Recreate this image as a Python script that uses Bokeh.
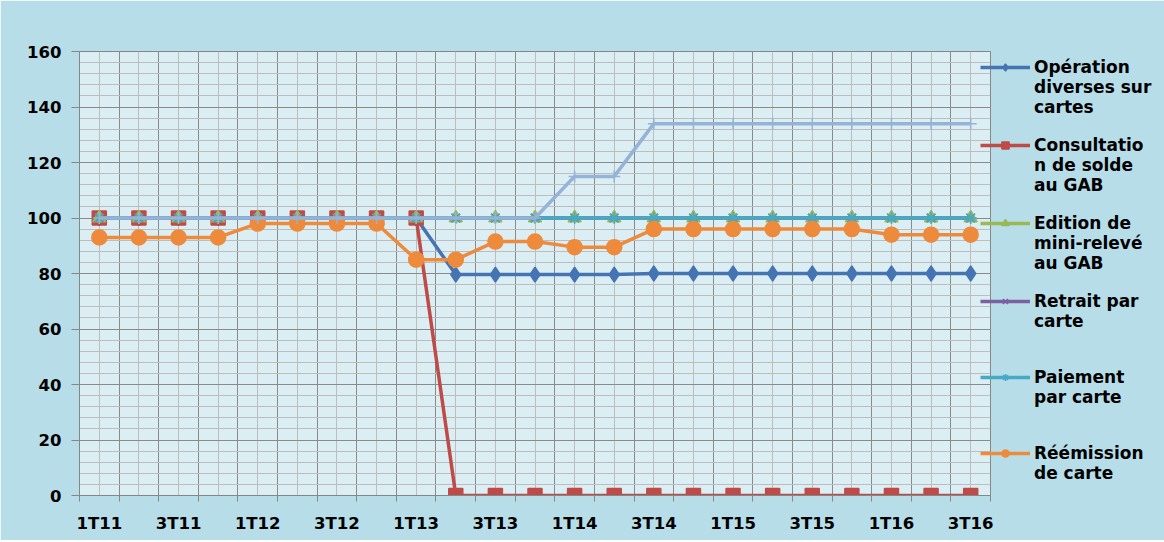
from bokeh.plotting import figure
from bokeh.models import Range1d, FixedTicker, Legend, LegendItem
from bokeh.embed import file_html
from bokeh.resources import INLINE

categories = ["1T11", "2T11", "3T11", "4T11", "1T12", "2T12", "3T12", "4T12",
              "1T13", "2T13", "3T13", "4T13", "1T14", "2T14", "3T14", "4T14",
              "1T15", "2T15", "3T15", "4T15", "1T16", "2T16", "3T16"]

operation_diverses = [100, 100, 100, 100, 100, 100, 100, 100, 100, 79.6, 79.6, 79.6,
                      79.6, 79.6, 80, 80, 80, 80, 80, 80, 80, 80, 80]
consultation_solde = [100, 100, 100, 100, 100, 100, 100, 100, 100, 0, 0, 0,
                      0, 0, 0, 0, 0, 0, 0, 0, 0, 0, 0]
edition_mini_releve = [100] * 23
retrait_carte = [100] * 23
paiement_carte = [100] * 23
reemission_carte = [93, 93, 93, 93, 98, 98, 98, 98, 85, 85, 91.5, 91.5,
                    89.5, 89.5, 96, 96, 96, 96, 96, 96, 94, 94, 94]
serie_7 = [100, 100, 100, 100, 100, 100, 100, 100, 100, 100, 100, 100,
           115, 115, 134, 134, 134, 134, 134, 134, 134, 134, 134]

series_names = [["Opération", "diverses sur", "cartes"],
                ["Consultatio", "n de solde", "au GAB"],
                ["Edition de", "mini-relevé", "au GAB"],
                ["Retrait par", "carte"],
                ["Paiement", "par carte"],
                ["Réémission", "de carte"]]

y_ticks = list(range(0, 161, 20))
y_minor = list(range(0, 161, 4))

x = list(range(len(categories)))
bounds = [i - 0.5 for i in range(len(categories) + 1)]
label_idx = list(range(0, len(categories), 2))

p = figure(frame_width=911, frame_height=444, output_backend="svg", toolbar_location=None,
           x_range=Range1d(-0.5, len(categories) - 0.5), y_range=Range1d(0, 160),
           min_border_left=79, min_border_top=51, min_border_bottom=45,
           min_border_right=0)
p.border_fill_color = "#B7DDE8"
p.background_fill_color = "#DBEEF3"
p.outline_line_color = "#868686"
p.outline_line_width = 1
p.styles = {"outline": "2px solid #8E8E8E", "outline-offset": "-5px"}

# grids
p.xgrid.ticker = FixedTicker(ticks=bounds, minor_ticks=x)
p.xgrid.grid_line_color = "#8A8A8A"
p.xgrid.minor_grid_line_color = "#BDBDBD"
p.ygrid.ticker = FixedTicker(ticks=y_ticks, minor_ticks=y_minor)
p.ygrid.grid_line_color = "#8A8A8A"
p.ygrid.minor_grid_line_color = "#BDBDBD"

# axes
xa = p.xaxis[0]
xa.ticker = FixedTicker(ticks=label_idx, minor_ticks=bounds)
xa.major_label_overrides = {i: categories[i] for i in label_idx}
xa.major_tick_line_color = None
xa.major_tick_out = 0
xa.minor_tick_out = 6
xa.minor_tick_in = 0
xa.minor_tick_line_color = "#868686"
xa.axis_line_color = "#868686"
xa.major_label_standoff = 12
xa.major_label_text_font = "DejaVu Sans"
xa.major_label_text_font_style = "bold"
xa.major_label_text_font_size = "16.5px"
xa.major_label_text_color = "#000000"

ya = p.yaxis[0]
ya.ticker = FixedTicker(ticks=y_ticks)
ya.minor_tick_line_color = None
ya.major_tick_out = 8
ya.major_tick_in = 0
ya.major_tick_line_color = "#868686"
ya.axis_line_color = "#868686"
ya.major_label_standoff = 10
ya.major_label_text_font = "DejaVu Sans"
ya.major_label_text_font_style = "bold"
ya.major_label_text_font_size = "16.5px"
ya.major_label_text_color = "#000000"

specs = [
    (operation_diverses, "#4674B3", "diamond", 15),
    (consultation_solde, "#BE4B48", "square", 14),
    (edition_mini_releve, "#98B954", "triangle", 13),
    (retrait_carte, "#7D60A0", "x", 12),
    (paiement_carte, "#46AAC5", "asterisk", 12),
    (reemission_carte, "#EE8A3C", "circle", 15),
]

# invisible renderer used for the continuation lines of wrapped legend labels
blank = p.line([], [], line_alpha=0)

items = []
n_series = len(specs)
for k, ((vals, col, mk, sz), lines) in enumerate(zip(specs, series_names)):
    lr = p.line(x, vals, line_color=col, line_width=3.5)
    sr = p.scatter(x, vals, marker=mk, size=sz, fill_color=col, line_color=col,
                   line_width=1.5)
    items.append(LegendItem(label=lines[0], renderers=[lr, sr]))
    for extra in lines[1:]:
        items.append(LegendItem(label=extra, renderers=[blank]))
    if k < n_series - 1:
        for _ in range(4 - len(lines)):
            items.append(LegendItem(label=" ", renderers=[blank]))

# seventh series (not listed in legend)
p.line(x, serie_7, line_color="#95B3D7", line_width=3.5)
p.scatter(x, serie_7, marker="cross", size=12, line_color="#95B3D7", line_width=1.5)

legend = Legend(items=items, location=(-10, 12))
legend.border_line_color = None
legend.background_fill_alpha = 0
legend.margin = 0
legend.padding = 0
legend.glyph_width = 50
legend.glyph_height = 18
legend.label_height = 18
legend.label_standoff = 4
legend.spacing = 0
legend.label_text_font = "DejaVu Sans"
legend.label_text_font_style = "bold"
legend.label_text_font_size = "17px"
legend.label_text_color = "#000000"
legend.label_text_baseline = "middle"
p.add_layout(legend, "right")

open("out.html", "w").write(file_html(p, INLINE))
